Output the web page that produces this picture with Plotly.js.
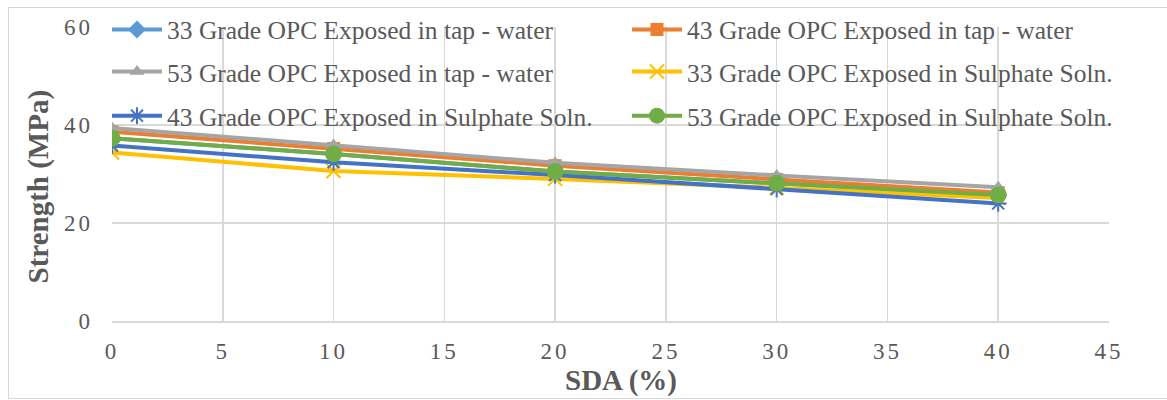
<!DOCTYPE html>
<html>
<head>
<meta charset="utf-8">
<script src="https://cdn.plot.ly/plotly-3.0.1.min.js"></script>
<style>
  html, body { margin: 0; padding: 0; background: #fff; overflow: hidden; }
  #chart { width: 1167px; height: 400px; }
  #frame { position: absolute; left: 8px; top: 7px; width: 1200px; height: 390px;
           border: 1px solid #d9d9d9; pointer-events: none; }
  .xtick text, .ytick text { letter-spacing: 3px; }
</style>
</head>
<body>
<div id="chart"></div>
<div id="frame"></div>
<script>
// SDA replacement levels (%)
const sda = [0, 10, 20, 30, 40];

// Compressive strength (MPa) for each cement grade / exposure
const opc33Tap = [37.3, 34.1, 30.5, 28.1, 25.7];
const opc43Tap = [38.6, 35.2, 31.7, 28.9, 26.2];
const opc53Tap = [39.4, 35.9, 32.3, 29.7, 27.3];
const opc33Sulphate = [34.4, 30.6, 29.0, 27.2, 25.1];
const opc43Sulphate = [35.8, 32.4, 29.8, 26.9, 24.0];
const opc53Sulphate = [37.3, 34.1, 30.5, 28.1, 25.7];

const seriesNames = [
  '33 Grade OPC Exposed in tap - water',
  '43 Grade OPC Exposed in tap - water',
  '53 Grade OPC Exposed in tap - water',
  '33 Grade OPC Exposed in Sulphate Soln.',
  '43 Grade OPC Exposed in Sulphate Soln.',
  '53 Grade OPC Exposed in Sulphate Soln.'
];

const textColor = '#595959';
const gridColor = '#d9d9d9';
const serif = 'Liberation Serif, Times New Roman, serif';

function series(y, name, color, symbol, size, legendId, open) {
  return {
    x: sda, y: y, name: name, type: 'scatter', mode: 'lines+markers',
    legend: legendId,
    line: { color: color, width: 4 },
    marker: open
      ? { symbol: symbol, size: size, color: color, line: { color: color, width: 2 } }
      : { symbol: symbol, size: size, color: color, line: { width: 0 } }
  };
}

const traces = [
  series(opc33Tap, seriesNames[0], '#5B9BD5', 'diamond', 14, 'legend', false),
  series(opc43Tap, seriesNames[1], '#ED7D31', 'square', 13, 'legend2', false),
  series(opc53Tap, seriesNames[2], '#A5A5A5', 'triangle-up', 13, 'legend3', false),
  series(opc33Sulphate, seriesNames[3], '#FFC000', 'x-thin-open', 14, 'legend4', true),
  series(opc43Sulphate, seriesNames[4], '#4472C4', 'asterisk-open', 14, 'legend5', true),
  series(opc53Sulphate, seriesNames[5], '#70AD47', 'circle', 17, 'legend6', false)
];

// Two legend columns, three rows
const colX = [-5 / 997, 515 / 997];
const rowY = [0.99, 0.847, 0.697];

function legendAt(col, row) {
  return {
    x: colX[col], y: rowY[row], xanchor: 'left', yanchor: 'middle',
    bgcolor: 'rgba(0,0,0,0)', itemwidth: 50,
    font: { family: serif, size: 25.5, color: textColor }
  };
}

const layout = {
  width: 1167, height: 400,
  margin: { l: 112, r: 58, t: 27, b: 79, autoexpand: false },
  paper_bgcolor: '#fff', plot_bgcolor: '#fff',
  showlegend: true,
  legend: legendAt(0, 0),
  legend2: legendAt(1, 0),
  legend3: legendAt(0, 1),
  legend4: legendAt(1, 1),
  legend5: legendAt(0, 2),
  legend6: legendAt(1, 2),
  xaxis: {
    range: [0, 45], dtick: 5, tick0: 0, automargin: false,
    showgrid: true, gridcolor: gridColor, gridwidth: 1.5,
    zeroline: false, showline: true, linecolor: gridColor, linewidth: 2,
    ticks: '', ticklabelstandoff: 8,
    tickfont: { family: serif, size: 23, color: textColor }
  },
  yaxis: {
    range: [0, 60], dtick: 20, tick0: 0, automargin: false,
    showgrid: true, gridcolor: gridColor, gridwidth: 1.5,
    zeroline: false, showline: false,
    ticks: '', ticklabelstandoff: 18,
    tickfont: { family: serif, size: 23, color: textColor }
  },
  annotations: [
    { text: 'SDA (%)', xref: 'paper', yref: 'paper',
      x: (621 - 112) / 997, y: -(380 - 321) / 294, xanchor: 'center', yanchor: 'middle',
      showarrow: false, font: { family: serif, size: 29, color: textColor, weight: 'bold' } },
    { text: 'Strength (MPa)', xref: 'paper', yref: 'paper', textangle: -90,
      x: -(112 - 38.5) / 997, y: (321 - 187) / 294, xanchor: 'center', yanchor: 'middle',
      showarrow: false, font: { family: serif, size: 29, color: textColor, weight: 'bold' } }
  ]
};

Plotly.newPlot('chart', traces, layout, { displayModeBar: false, staticPlot: true });
</script>
</body>
</html>
